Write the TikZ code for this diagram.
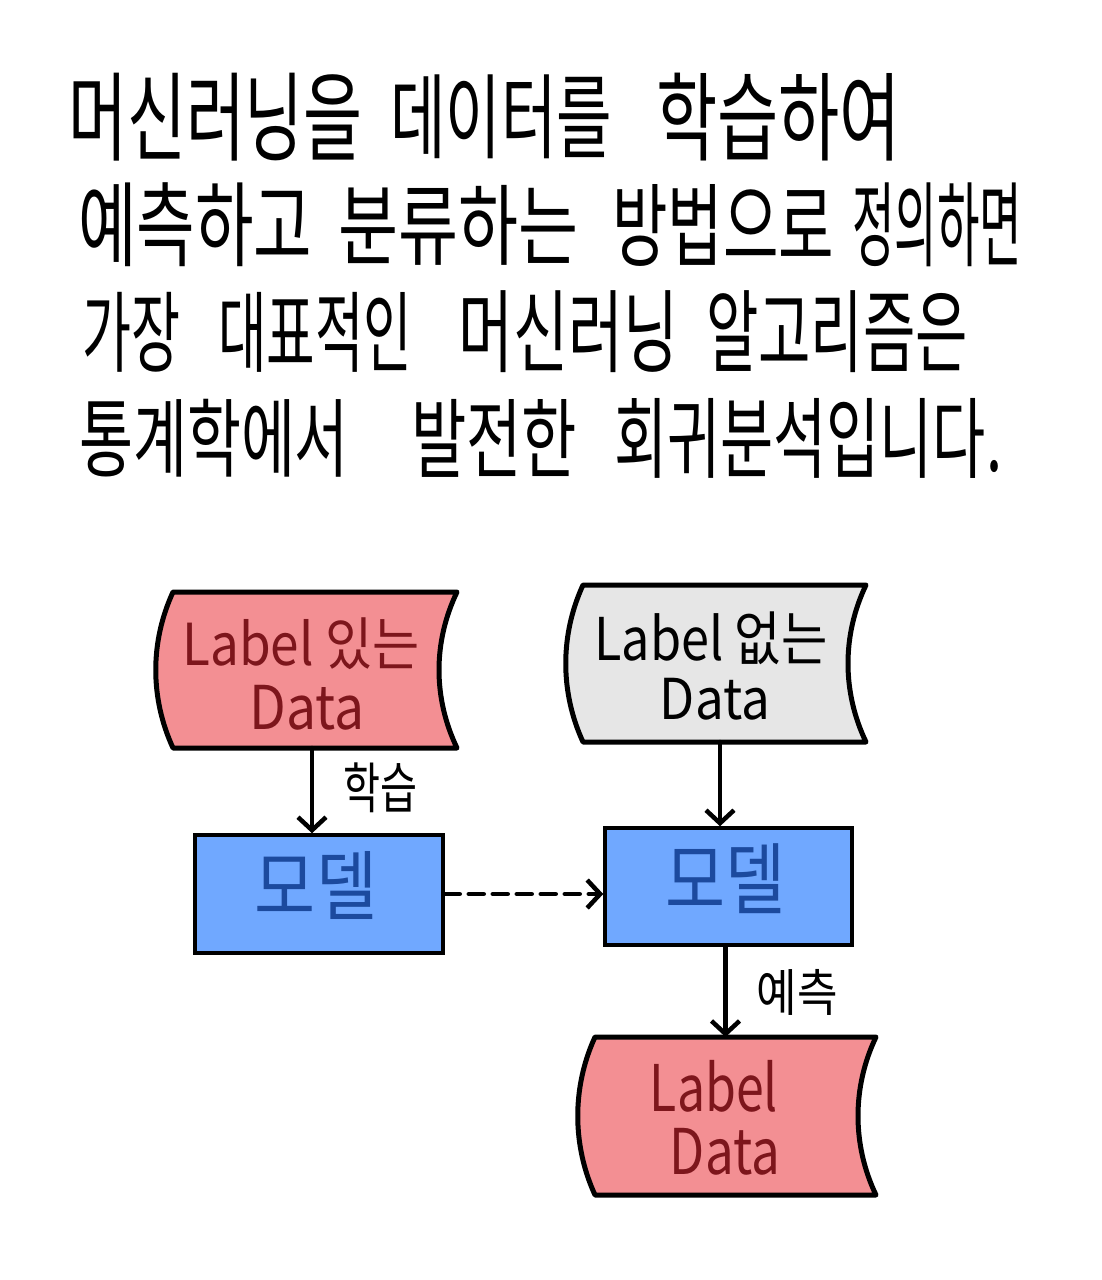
\documentclass[tikz,border=0pt]{standalone}
\usepackage{fontspec}
\setmainfont{Noto Sans CJK KR}
\usetikzlibrary{arrows.meta,calc}
\definecolor{redfill}{RGB}{243,143,147}
\definecolor{redtext}{RGB}{125,22,28}
\definecolor{greyfill}{RGB}{230,230,230}
\definecolor{bluefill}{RGB}{112,168,255}
\definecolor{bluetext}{RGB}{28,74,158}
\tikzset{
  tw/.style={anchor=west,inner sep=0pt,outer sep=0pt},
  tc/.style={inner sep=0pt,outer sep=0pt},
  datanode/.style={inner sep=0pt,outer sep=0pt,minimum width=#1},
  shapeline/.style={draw=black,line width=5pt,line join=round,line cap=round},
  modelbox/.style={draw=black,line width=3.5pt,fill=bluefill,inner sep=0pt,minimum width=248pt,minimum height=118pt},
  arr/.style={draw=black,line width=4.5pt,line cap=round,-{Straight Barb[length=13pt,width=28pt]}},
  dasharr/.style={arr,dash pattern=on 15pt off 9pt},
  lbl/.style={inner sep=0pt,outer sep=0pt}
}
\newcommand\fit[3]{\resizebox*{#1pt}{#2pt}{#3}}
\newcommand\datashape[2]{%
  \path[shapeline,fill=#2]
    ($(#1.north west)+(17,0)$) -- (#1.north east)
    .. controls ($(#1.north east)+(-24,50)$) and ($(#1.south east)+(-24,-50)$) .. (#1.south east)
    -- ($(#1.south west)+(17,0)$)
    .. controls ($(#1.south west)+(-6,-50)$) and ($(#1.north west)+(-6,50)$) .. ($(#1.north west)+(17,0)$)
    -- cycle;}
\begin{document}
\begin{tikzpicture}[x=1pt,y=-1pt]
\fill[white] (0,0) rectangle (1102,1280);
\useasboundingbox (0,0) rectangle (1102,1280);

% ---- paragraph ----
\node[tw] (w11) at (68,117) {\fit{295}{88}{머신러닝을}};
\node[tw] (w12) at (390,117) {\fit{222}{84}{데이터를}};
\node[tw] (w13) at (656,117) {\fit{245}{88}{학습하여}};

\node[tw] (w21) at (78,225) {\fit{234}{84}{예측하고}};
\node[tw] (w22) at (338,225) {\fit{240}{80}{분류하는}};
\node[tw] (w23) at (612,225) {\fit{222}{82}{방법으로}};
\node[tw] (w24) at (852,225) {\fit{170}{84}{정의하면}};

\node[tw] (w31) at (82,332) {\fit{98}{80}{가장}};
\node[tw] (w32) at (218,332) {\fit{194}{80}{대표적인}};
\node[tw] (w33) at (458,332) {\fit{220}{82}{머신러닝}};
\node[tw] (w34) at (706,332) {\fit{262}{82}{알고리즘은}};

\node[tw] (w41) at (79,438) {\fit{270}{78}{통계학에서}};
\node[tw] (w42) at (411,438) {\fit{166}{78}{발전한}};
\node[tw] (w43) at (614,438) {\fit{388}{80}{회귀분석입니다.}};

% ---- data shapes ----
\node[datanode=301pt,minimum height=156pt] (ld) at (306.5,670) {};
\datashape{ld}{redfill}
\node[datanode=300pt,minimum height=157pt] (gd) at (716,663.5) {};
\datashape{gd}{greyfill}
\node[datanode=298pt,minimum height=158pt] (rd) at (727,1116) {};
\datashape{rd}{redfill}

\node[tc,text=redtext] (ldt1) at (301,644) {\fit{237}{52}{Label 있는}};
\node[tc,text=redtext] (ldt2) at (307,708) {\fit{115}{45}{Data}};
\node[tc,text=black] (gdt1) at (711,638) {\fit{233}{53}{Label 없는}};
\node[tc,text=black] (gdt2) at (715,699) {\fit{110}{42}{Data}};
\node[tc,text=redtext] (rdt1) at (714,1086) {\fit{128}{52}{Label}};
\node[tc,text=redtext] (rdt2) at (725,1152) {\fit{110}{47}{Data}};

% ---- model boxes ----
\node[modelbox] (m1) at (319,894) {};
\node[modelbox,minimum width=247pt,minimum height=117pt] (m2) at (728.5,886.5) {};
\node[tc,text=bluetext] (m1t) at (316,885) {\fit{122}{68}{모델}};
\node[tc,text=bluetext] (m2t) at (725,879) {\fit{120}{70}{모델}};

% ---- connectors ----
\draw[arr] ([xshift=5.5pt]ld.south) -- ([xshift=5.5pt]ld.south |- m1.north);
\draw[arr] ([xshift=4pt]gd.south) -- ([xshift=4pt]gd.south |- m2.north);
\draw[arr] ([xshift=-3pt]m2.south) -- ([xshift=-3pt]m2.south |- rd.north);
\draw[dasharr] (m1.east) -- (m1.east -| m2.west);

% ---- connector labels ----
\node[lbl] (l1) at (380,788) {\fit{74}{50}{학습}};
\node[lbl] (l2) at (797,992) {\fit{81}{46}{예측}};
\end{tikzpicture}
\end{document}
